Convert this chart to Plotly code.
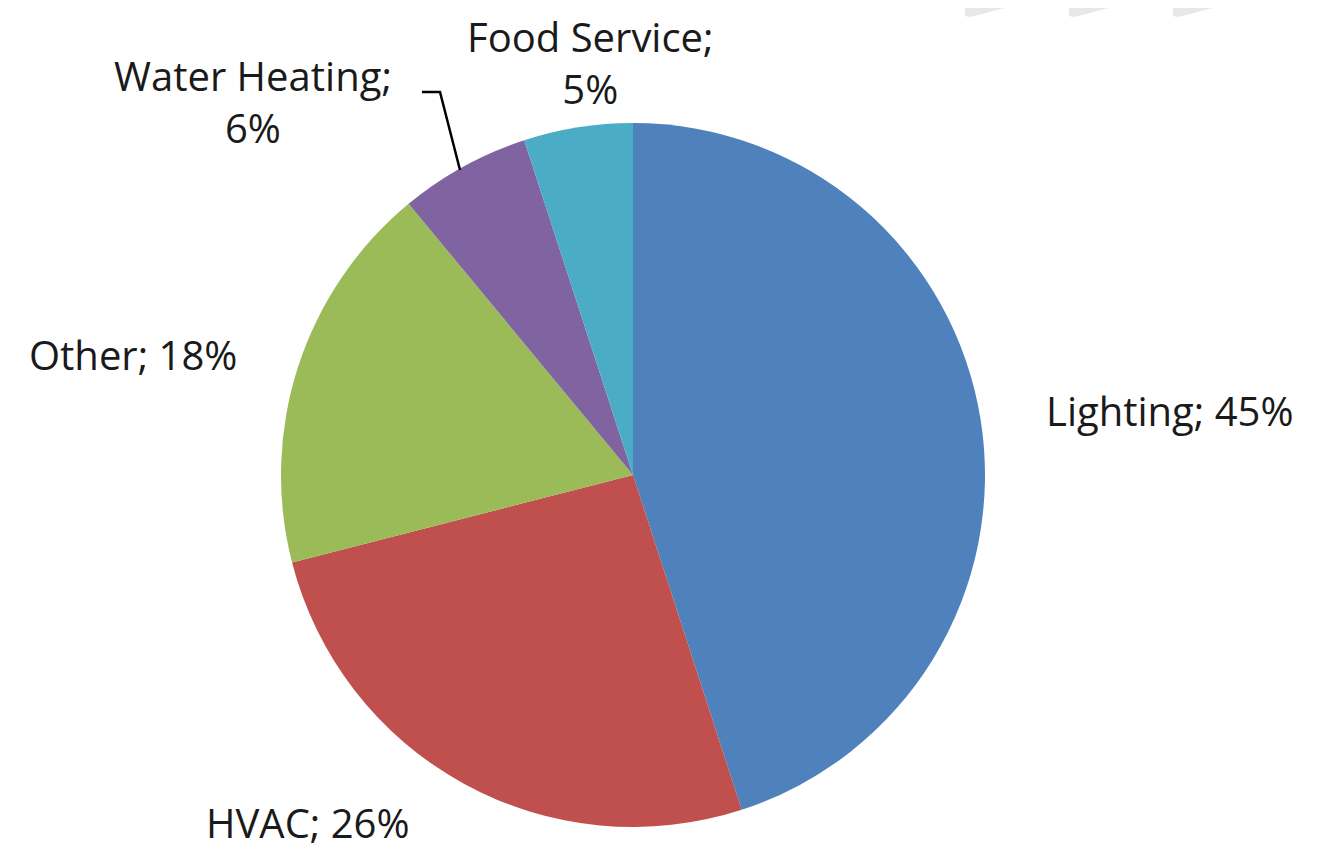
import plotly.graph_objects as go

# Energy end-use shares (percent)
categories = ["Lighting", "HVAC", "Other", "Water Heating", "Food Service"]
shares = [45, 26, 18, 6, 5]
slice_colors = ["#4F81BD", "#C0504D", "#9BBB59", "#8064A2", "#4BACC6"]

# the page body has an 8px margin, so the figure is sized to fit what is left
OFF = 8
W, H = 1319 - OFF, 850 - OFF
FONT = "Open Sans"


def px(x):
    return (x - OFF) / W


def py(y):
    return 1 - (y - OFF) / H


# pie centre and radius in window pixels
cx, cy, r = 633, 475, 352

fig = go.Figure(go.Pie(
    labels=categories,
    values=shares,
    sort=False,
    direction="clockwise",
    rotation=0,
    textinfo="none",
    hoverinfo="label+percent",
    marker=dict(colors=slice_colors, line=dict(width=0)),
    domain=dict(x=[px(cx - r), px(cx + r)], y=[py(cy + r), py(cy - r)]),
    showlegend=False,
))

# label placement (pixel centres) and line breaks, like the original chart
label_pos = {
    "Lighting": (1170, 410, False),
    "HVAC": (308, 822, False),
    "Other": (133, 355, False),
    "Water Heating": (253, 101, True),
    "Food Service": (590, 63, True),
}

for name, val in zip(categories, shares):
    x, y, wrap = label_pos[name]
    sep = ";<br>" if wrap else "; "
    fig.add_annotation(
        x=px(x), y=py(y), xref="paper", yref="paper",
        text=f"{name}{sep}{val}%",
        showarrow=False, xanchor="center", yanchor="middle",
        font=dict(family=FONT, size=40, color="#1a1a1a"),
        align="center",
    )

# leader line for Water Heating
fig.add_shape(
    type="path", xref="paper", yref="paper",
    path=f"M {px(422)} {py(92)} L {px(440)} {py(92)} L {px(460)} {py(170)}",
    line=dict(color="black", width=2.5),
)

# faint watermark fragments at the top right
for x0 in [965, 1069, 1173]:
    fig.add_shape(
        type="path", xref="paper", yref="paper",
        path=(f"M {px(x0)} {py(OFF)} L {px(x0 + 40)} {py(OFF)} "
              f"L {px(x0 + 5)} {py(17)} L {px(x0)} {py(16)} Z"),
        fillcolor="#e8e8e8", line=dict(width=0),
    )

fig.update_layout(
    width=W, height=H,
    margin=dict(l=0, r=0, t=0, b=0),
    paper_bgcolor="white",
    plot_bgcolor="white",
    font=dict(family=FONT),
)

fig.write_html("out.html")
